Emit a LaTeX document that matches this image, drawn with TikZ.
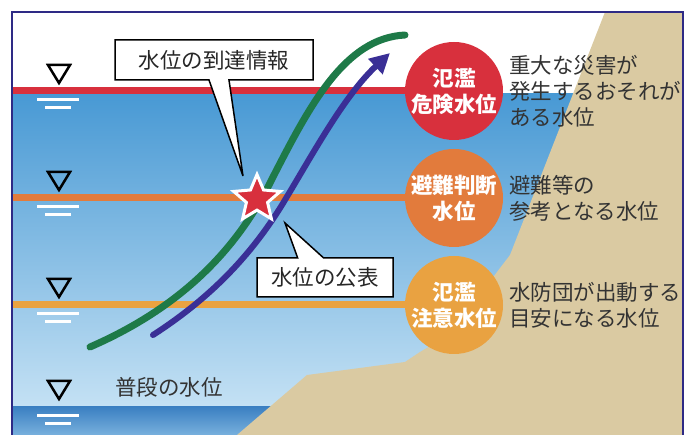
\documentclass[tikz,border=0pt]{standalone}
\usepackage{fontspec}
\setmainfont{Noto Sans CJK JP}
\usepackage{tikz}
\usetikzlibrary{shapes.geometric,shapes.callouts,arrows.meta,positioning}
\definecolor{framenavy}{HTML}{2E2A85}
\definecolor{floodtop}{HTML}{4899D4}
\definecolor{floodbottom}{HTML}{C4E1F4}
\definecolor{rivertop}{HTML}{3B80C2}
\definecolor{riverbottom}{HTML}{78B0DD}
\definecolor{sand}{HTML}{DACAA2}
\definecolor{dangerred}{HTML}{D8303D}
\definecolor{judgeorange}{HTML}{E27B3C}
\definecolor{alertorange}{HTML}{E9A241}
\definecolor{reachgreen}{HTML}{1E7A48}
\definecolor{noticeblue}{HTML}{3A2F96}
\definecolor{textgray}{HTML}{333333}
\tikzset{
  levelline/.style={line width=7pt},
  levelball/.style={circle, minimum size=98pt, inner sep=0pt, text=white,
    font=\fontsize{21.5}{26}\selectfont\bfseries, align=center},
  levelnote/.style={inner sep=0pt, text=textgray,
    font=\fontsize{21.5}{26}\selectfont, align=left},
  callbox/.style={rectangle callout, draw=black, line width=1.5pt, fill=white,
    text=black!85, font=\fontsize{21.5}{26}\selectfont, inner sep=0pt},
  gauge/.style={line width=2.5pt, line join=miter},
  ripple/.style={white, line width=3pt},
}

\begin{document}
\begin{tikzpicture}[x=1pt,y=-1pt]
  \useasboundingbox (0,0) rectangle (689,435);
  \clip (0,0) rectangle (689,435);
  % Flood water and normal river
  \shade[top color=floodtop, bottom color=floodbottom] (12,94) rectangle (683,407);
  \shade[top color=rivertop, bottom color=riverbottom] (12,407) rectangle (683,435);
  % Bank
  \fill[sand] (605,12) -- (510,255) -- (497,272) -- (455,328) -- (437,342) -- (420,352)
    -- (405,362) -- (307,375) -- (237,435) -- (683,435) -- (683,12) -- cycle;
  % Level circles
  \node[levelball, fill=dangerred] (danger) at (454,91) {氾濫\\危険水位};
  \node[levelball, fill=judgeorange] (judge) at (454,198) {避難判断\\水位};
  \node[levelball, fill=alertorange] (alert) at (454,305) {氾濫\\注意水位};
  % Level lines
  \coordinate (dangerstart) at (12,91);
  \coordinate (judgestart) at (12,198);
  \coordinate (alertstart) at (12,305);
  \draw[levelline, dangerred] (dangerstart) -- (danger.west);
  \draw[levelline, judgeorange] (judgestart) -- (judge.west);
  \draw[levelline, alertorange] (alertstart) -- (alert.west);
  % Gauge marks
  \foreach \y in {91,198,305,407} {
    \draw[gauge] (48,\y-26) -- (70,\y-26) -- (59,\y-8) -- cycle;
    \draw[ripple] (37,\y+8.5) -- (79,\y+8.5);
    \draw[ripple] (45,\y+16.5) -- (71,\y+16.5);
  }
  % Notes
  \node[levelnote, right=6pt of danger] (dangernote) {重大な災害が\\発生するおそれが\\ある水位};
  \node[levelnote, right=6pt of judge] (judgenote) {避難等の\\参考となる水位};
  \node[levelnote, right=6pt of alert] (alertnote) {水防団が出動する\\目安になる水位};
  \node[levelnote] (usual) at (169,387) {普段の水位};
  % Rising curves
  \draw[reachgreen, line width=7pt, line cap=round] (90,347)
    .. controls (175,310) and (235,255) .. (273,177)
    .. controls (310,105) and (345,38) .. (405,35);
  \draw[noticeblue, line width=6pt, line cap=round, -{Triangle[length=20pt,width=20pt]}] (153,335)
    .. controls (215,295) and (255,250) .. (285,200)
    .. controls (315,150) and (345,95) .. (390,53);
  % Star
  \node[star, star points=5, star point ratio=2.2, minimum size=49pt, inner sep=0pt,
    fill=dangerred, draw=white, line width=3pt] (flag) at (257,199) {};
  % Callouts
  \coordinate (reachtip) at (243,176);
  \coordinate (noticetip) at (285,223);
  \node[callbox, minimum width=198pt, minimum height=40pt, callout pointer width=20pt,
    callout absolute pointer={(reachtip)}] (reach) at (214,60) {水位の到達情報};
  \node[callbox, minimum width=136pt, minimum height=39pt, callout pointer width=26pt,
    callout absolute pointer={(noticetip)}] (notice) at (325,277.5) {水位の公表};
  % Frame
  \draw[framenavy, line width=1.5pt] (12,440) -- (12,12) -- (683,12) -- (683,440);
\end{tikzpicture}
\end{document}
